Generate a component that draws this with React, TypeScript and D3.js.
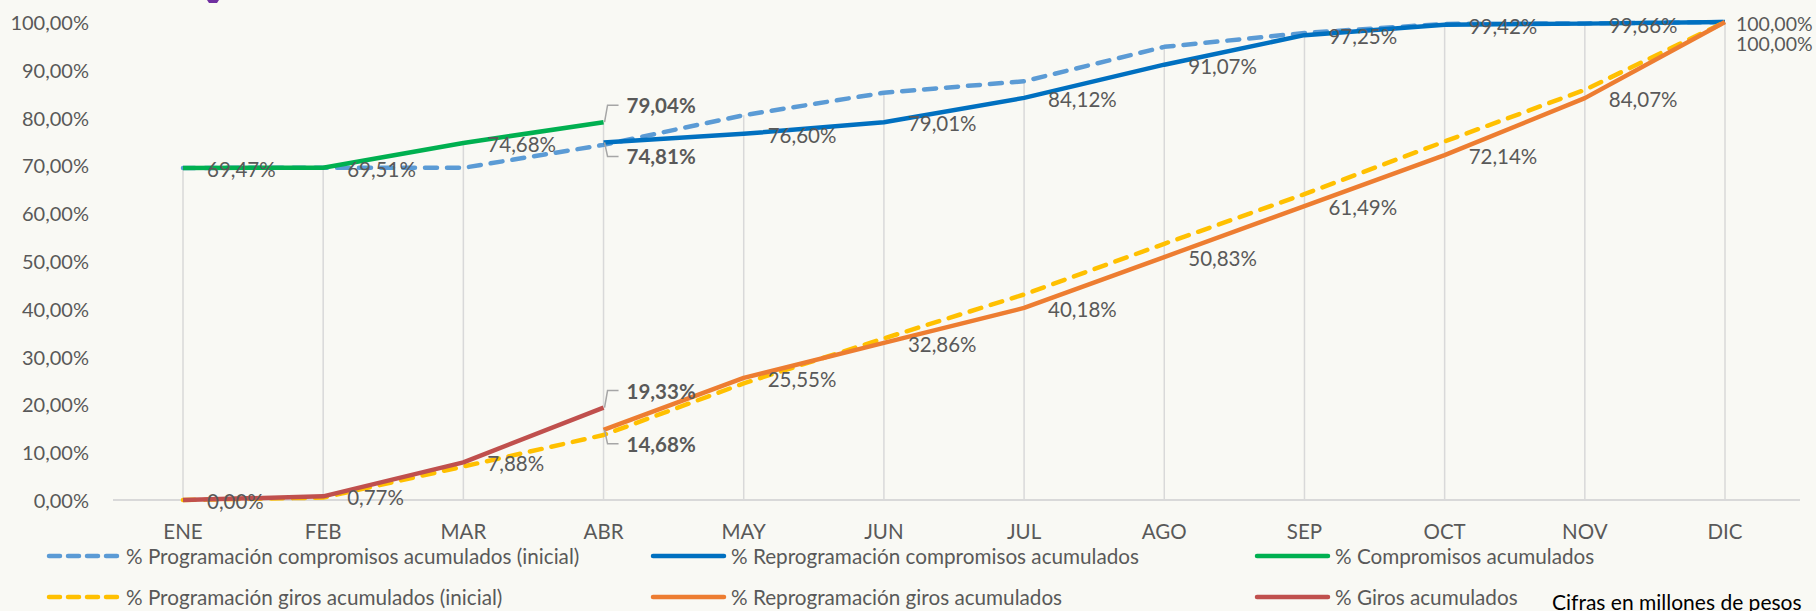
import React from "react";
import * as d3 from "d3";

const months = ["ENE", "FEB", "MAR", "ABR", "MAY", "JUN", "JUL", "AGO", "SEP", "OCT", "NOV", "DIC"];
const yTicks = [0, 10, 20, 30, 40, 50, 60, 70, 80, 90, 100];

// % compromisos
const progCompInicial = [69.47, 69.51, 69.5, 74.3, 80.5, 85.2, 87.6, 94.8, 97.7, 99.6, 99.7, 100];
const reprogComp = [null, null, null, 74.81, 76.6, 79.01, 84.12, 91.07, 97.25, 99.42, 99.66, 100];
const compromisos = [69.47, 69.51, 74.68, 79.04, null, null, null, null, null, null, null, null];
// % giros
const progGirosInicial = [0, 0.5, 7.0, 13.6, 24.4, 33.8, 43.0, 53.6, 64.0, 75.0, 85.8, 100];
const reprogGiros = [null, null, null, 14.68, 25.55, 32.86, 40.18, 50.83, 61.49, 72.14, 84.07, 100];
const giros = [0, 0.77, 7.88, 19.33, null, null, null, null, null, null, null, null];

const series = [
  { name: "% Programación compromisos acumulados (inicial)", values: progCompInicial, color: "#5B9BD5", dashed: true },
  { name: "% Reprogramación compromisos acumulados", values: reprogComp, color: "#0070C0", dashed: false },
  { name: "% Compromisos acumulados", values: compromisos, color: "#00B050", dashed: false },
  { name: "% Programación giros acumulados (inicial)", values: progGirosInicial, color: "#FFC000", dashed: true },
  { name: "% Reprogramación giros acumulados", values: reprogGiros, color: "#ED7D31", dashed: false },
  { name: "% Giros acumulados", values: giros, color: "#C0504D", dashed: false },
];

// which series get data labels, and the month index of the bold callout
const labelled = [
  { values: compromisos, callout: 3, side: "up" },
  { values: reprogComp, callout: 3, side: "down" },
  { values: giros, callout: 3, side: "up" },
  { values: reprogGiros, callout: 3, side: "down" },
];

const fmt = (v: number) => v.toFixed(2).replace(".", ",") + "%";
const font = "Lato, 'Open Sans', sans-serif";
const grey = "#595959";
const dash = "12 10";

export default function App() {
  const width = 1816;
  const height = 611;
  const x = d3.scalePoint<string>().domain(months).range([183, 1725]);
  const y = d3.scaleLinear().domain([0, 100]).range([500, 22]);

  const line = d3
    .line<number | null>()
    .defined((d) => d != null)
    .x((d, i) => x(months[i]) as number)
    .y((d) => y(d as number));

  // drop lines from the highest value in each month to the axis
  const tops = months.map((m, i) => d3.max(series, (s) => s.values[i] as number) as number);

  const labels: any[] = [];
  labelled.forEach((s, si) => {
    s.values.forEach((v, i) => {
      if (v == null) return;
      const px = x(months[i]) as number;
      const py = y(v);
      if (i === s.callout) {
        const dy = s.side === "up" ? -17 : 14;
        labels.push({
          key: `${si}-${i}`,
          tx: px + 23,
          ty: py + dy,
          text: fmt(v),
          bold: true,
          size: 20.5,
          leader: `M${px + 1},${py}L${px + 4},${py + dy}L${px + 15},${py + dy}`,
        });
      } else if (i === months.length - 1) {
        // last month: pushed in so it stays inside the picture
        labels.push({ key: `${si}-${i}`, tx: px + 11, ty: py + (si === 3 ? 21 : 1), text: fmt(v), bold: false, size: 19.5 });
      } else {
        labels.push({ key: `${si}-${i}`, tx: px + 24, ty: py + 1, text: fmt(v), bold: false, size: 20.5 });
      }
    });
  });

  const legendX = [
    { line: [49, 118], text: 126 },
    { line: [653, 724], text: 731 },
    { line: [1257, 1328], text: 1335 },
  ];
  const legendY = [556, 597];

  return (
    <svg
      width={width}
      height={height}
      style={{ position: "absolute", left: 0, top: 0, background: "#F9F9F4" }}
      fontFamily={font}
    >
      <rect width={width} height={height} fill="#F9F9F4" />
      <path d="M207,0 L219,0 L217,3 L209,3 Z" fill="#7030A0" />

      {/* drop lines */}
      {months.map((m, i) => (
        <line key={m} x1={x(m)} x2={x(m)} y1={y(tops[i])} y2={y(0)} stroke="#D9D9D9" strokeWidth={1.5} />
      ))}
      <line x1={113} x2={1800} y1={y(0)} y2={y(0)} stroke="#D9D9D9" strokeWidth={2} />

      {/* y axis labels */}
      {yTicks.map((t) => (
        <text key={t} x={89} y={y(t)} textAnchor="end" dominantBaseline="central" fontSize={20} fill={grey}>
          {fmt(t)}
        </text>
      ))}
      {/* x axis labels */}
      {months.map((m) => (
        <text key={m} x={x(m)} y={531} textAnchor="middle" dominantBaseline="central" fontSize={20.5} fill={grey}>
          {m}
        </text>
      ))}

      {/* series */}
      {series.map((s) => (
        <path
          key={s.name}
          d={line(s.values) || ""}
          fill="none"
          stroke={s.color}
          strokeWidth={4.5}
          strokeDasharray={s.dashed ? dash : undefined}
          strokeLinecap={s.dashed ? "round" : "butt"}
          strokeLinejoin="round"
        />
      ))}

      {/* data labels */}
      {labels.map((l) => (
        <g key={l.key}>
          {l.leader && <path d={l.leader} fill="none" stroke="#A6A6A6" strokeWidth={1.5} />}
          <text
            x={l.tx}
            y={l.ty}
            dominantBaseline="central"
            fontSize={l.size}
            fontWeight={l.bold ? 700 : 400}
            fill={grey}
          >
            {l.text}
          </text>
        </g>
      ))}

      {/* legend */}
      {series.map((s, i) => {
        const col = legendX[i % 3];
        const ly = legendY[Math.floor(i / 3)];
        return (
          <g key={s.name}>
            <line
              x1={col.line[0]}
              x2={col.line[1]}
              y1={ly}
              y2={ly}
              stroke={s.color}
              strokeWidth={4.5}
              strokeDasharray={s.dashed ? "11 8" : undefined}
              strokeLinecap="round"
            />
            <text x={col.text} y={ly} dominantBaseline="central" fontSize={20.7} fill={grey}>
              {s.name}
            </text>
          </g>
        );
      })}

      <text x={1552} y={601} dominantBaseline="central" fontSize={21} fill="#000">
        Cifras en millones de pesos
      </text>
    </svg>
  );
}
